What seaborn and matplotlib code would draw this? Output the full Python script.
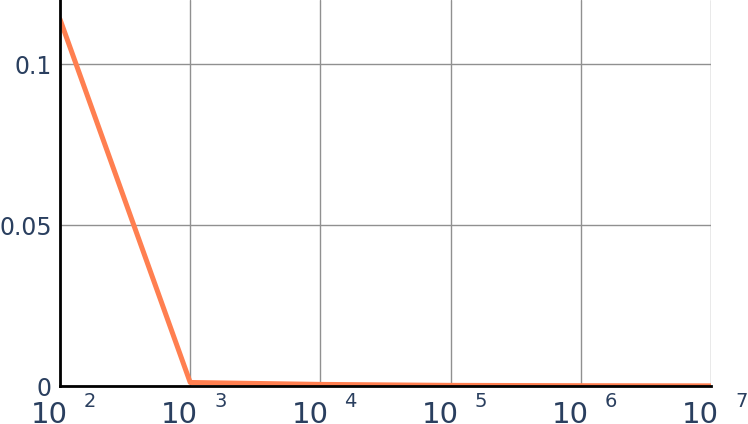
import matplotlib
matplotlib.use("Agg")
import matplotlib.pyplot as plt
import seaborn as sns
import pandas as pd

# ============ data ============
sizes = [1e2, 1e3, 1e4, 1e5, 1e6, 1e7]
values = [0.114, 0.0011, 0.0005, 0.0002, 0.0001, 0.00005]
x_exponents = [2, 3, 4, 5, 6, 7]
y_ticks = [0, 0.05, 0.1]
y_labels = ["0", "0.05", "0.1"]

TEXT = "#2a3f5f"
LINE = "#ff7f50"

sns.set_style("white")
plt.rcParams['font.family'] = ['DejaVu Sans']

fig = plt.figure(figsize=(7.48, 4.24), dpi=100)
ax = fig.add_axes([60 / 748, 1 - 386 / 424, 651 / 748, 386 / 424])

df = pd.DataFrame({"size": sizes, "value": values})
sns.lineplot(data=df, x="size", y="value", ax=ax, color=LINE, linewidth=3.6)

ax.set_xscale("log")
ax.set_xlim(1e2, 1e7)
ax.set_ylim(0, 0.12)
ax.set_xlabel("")
ax.set_ylabel("")

ax.set_xticks([10 ** e for e in x_exponents])
ax.set_xticklabels([])
ax.xaxis.set_minor_locator(matplotlib.ticker.NullLocator())
ax.set_yticks(y_ticks)
ax.set_yticklabels(y_labels, fontsize=17, color=TEXT)
ax.tick_params(axis="both", length=0)
ax.tick_params(axis="y", pad=6)

ax.grid(True, color="#909090", linewidth=1.0)
ax.set_axisbelow(True)

for side in ["top", "right"]:
    ax.spines[side].set_visible(False)
for side in ["left", "bottom"]:
    ax.spines[side].set_color("black")
    ax.spines[side].set_linewidth(2)

# tick labels "10 n" with raised exponent
for e in x_exponents:
    ax.annotate("10", xy=(10 ** e, 0), xycoords=("data", "axes fraction"),
                xytext=(8, -37), textcoords="offset pixels",
                ha="right", va="baseline", fontsize=21, color=TEXT,
                annotation_clip=False)
    ax.annotate(str(e), xy=(10 ** e, 0), xycoords=("data", "axes fraction"),
                xytext=(24, -21), textcoords="offset pixels",
                ha="left", va="baseline", fontsize=14, color=TEXT,
                annotation_clip=False)

fig.savefig("out.png", dpi=100)
